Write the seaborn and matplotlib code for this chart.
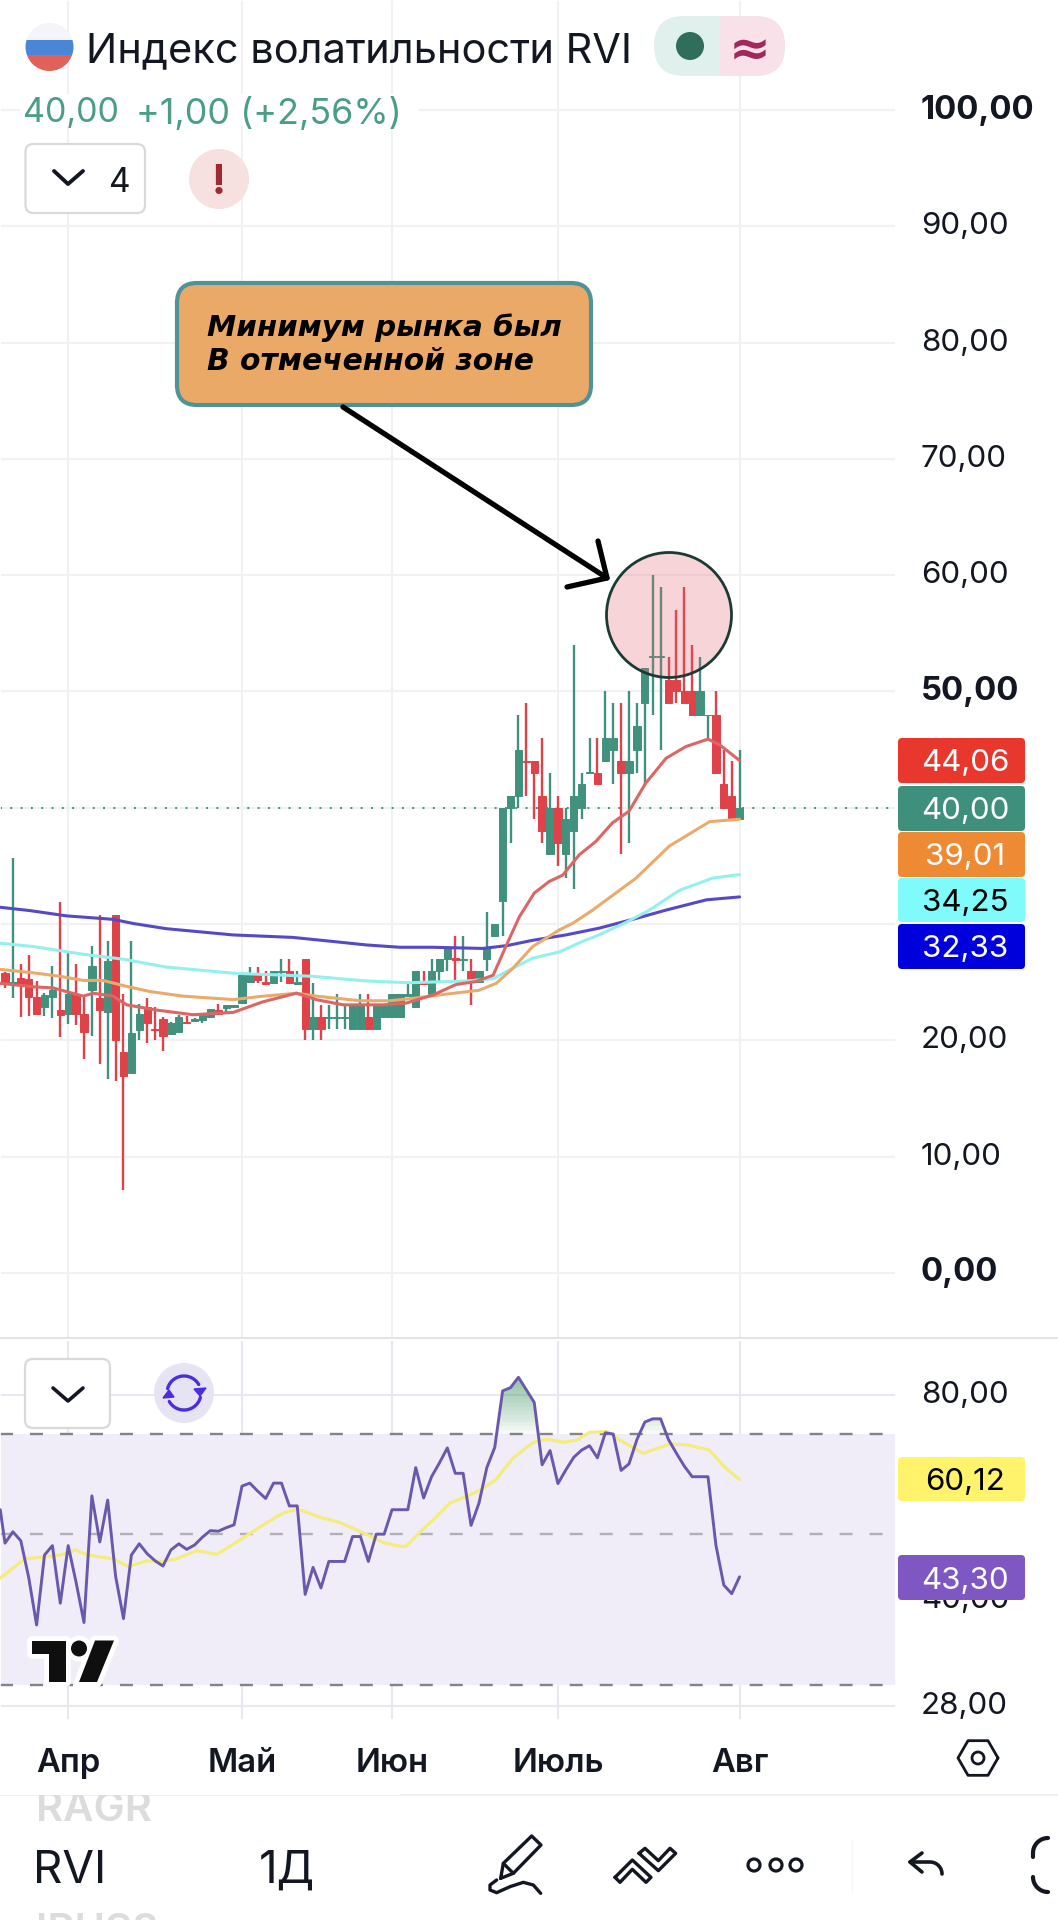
import matplotlib
matplotlib.use("Agg")
import matplotlib.pyplot as plt
import numpy as np
import pandas as pd
import seaborn as sns
from matplotlib.patches import Circle, FancyBboxPatch, Polygon, Rectangle

# ---------------------------------------------------------------------------
# Candles, one per bar
# ---------------------------------------------------------------------------
candle_high = [25.9, 35.65, 26.6, 27.3, 25.1, 24.05, 26.35, 31.9, 27.5, 26.6, 23.8, 28.1, 30.8, 28.5, 30.8, 24, 28.5,
               23.1, 23.6, 22.9, 22, 21.6, 22.2, 22.1, 21.9, 22.3, 22.7, 23.1, 23.05, 23, 25.6, 26.3, 26.3, 26, 26, 27,
               27, 26, 27, 24.9, 23, 23, 24, 23, 23, 24, 24, 23, 23, 24, 24, 25, 26, 26, 27, 27, 28, 29, 29, 27, 26, 31,
               30, 40, 41, 48, 49, 44, 46, 43, 41, 40, 54, 43, 46, 46, 50, 49, 49, 50, 49, 52, 60, 59, 53, 57, 59, 54,
               53, 48, 50, 45, 44, 45]
candle_top = [25.8, 25.05, 25.4, 25.25, 23.7, 23.9, 24.3, 22.6, 24, 23.9, 22.3, 26.4, 23.6, 26.8, 30.8, 19, 20.6,
              22.3, 22.85, 21, 21.85, 21.5, 22, 21.6, 21.8, 22.2, 22.7, 22.6, 23, 23, 25.6, 25.7, 25.6, 25, 26, 26,
              26, 25, 27, 22, 22, 22, 22, 22, 23, 23, 22, 23, 23, 24, 24, 24, 26, 25, 26, 27, 28, 27.05, 27, 26, 26, 28,
              30, 40, 41, 45, 44.05, 44, 41, 40, 40, 39, 41, 42, 43.05, 43, 46, 46, 44, 44, 47, 52, 53.05, 53.05, 51,
              51, 50, 50, 50, 48, 48, 42, 41, 40]
candle_bottom = [24.8, 24.8, 24.8, 23.7, 22.3, 22.9, 23.7, 22.2, 22.3, 22.3, 20.7, 24.3, 22.6, 22.4, 20, 16.9, 17.2,
                 20.9, 21.5, 20.9, 20.4, 20.5, 20.75, 21.5, 21.7, 21.75, 22, 22.25, 22.8, 22.9, 23.2, 25, 25.2, 24.85,
                 24.9, 25.85, 24.9, 24.85, 21, 21, 21, 21.9, 21.9, 21.9, 21, 21, 21, 21, 22, 22, 22, 23.85, 22.9, 24.85,
                 24, 26, 27, 26.9, 26.9, 25, 25, 27, 29, 32, 40, 41, 43.95, 43, 38, 36, 37, 36, 38, 40, 42.95, 42, 44,
                 45, 43, 43, 45, 49, 52.95, 52.95, 49, 50, 49, 48, 48, 47.95, 43, 40, 39, 39]
candle_low = [24.5, 23.6, 22, 22.1, 22.3, 22.05, 21.9, 20.3, 21.4, 21.3, 18.4, 20.4, 18, 16.7, 16.5, 7.1, 17.1,
              20, 19.8, 20, 19.1, 20.5, 20.75, 21.5, 21.55, 21.5, 21.9, 22.2, 22.3, 22.9, 23.2, 25, 24.9, 24.85,
              24.9, 25, 24.9, 24.85, 20, 20, 20, 21, 21, 21, 21, 21, 21, 21, 22, 22, 22, 23.85, 22.9, 24.85,
              24, 25, 26, 25, 26, 23, 25, 26, 29, 29, 37, 40, 41, 39, 37, 36, 35, 34, 33, 39, 42.95, 42, 44,
              42, 36, 37, 43, 42, 48, 45, 49, 49, 49, 48, 48, 46, 43, 40, 39, 39]
candle_up = [0, 1, 0, 0, 0, 1, 1, 0, 1, 0, 0, 1, 0, 1, 0, 0, 1,
             1, 0, 0, 0, 1, 1, 0, 1, 1, 1, 0, 1, 1, 1, 1, 0, 0,
             1, 1, 0, 1, 0, 1, 0, 1, 1, 1, 1, 1, 0, 1, 1, 1, 1, 1, 1, 0,
             1, 1, 1, 0, 1, 0, 1, 1, 1, 1, 1, 1, 0, 0, 0, 1, 0, 1, 1, 1, 1, 0, 1,
             1, 0, 1, 1, 1, 1, 1, 0, 0, 0, 0, 1, 1, 0, 0, 0, 1]

# Moving averages: bar position, value
ma_red_x = [-0.6, 3.6, 6.1, 9.9, 11.2, 13.7, 15.4, 19.2, 23.8, 28.9, 32.6, 36.9, 39.4, 42.8, 47.9, 50.8, 54.2, 57.1,
            59.6, 61.8, 63.4, 65.1, 67, 68.9, 70.6, 72.7, 74.8, 76.9, 79, 81.1, 83.7, 86.2, 89, 90.5, 93]
ma_red_y = [24.9, 24.6, 24.5, 23.8, 24.05, 23.8, 23.05, 22.6, 22.2, 22.4, 23.3, 24.05, 23.5, 23.05, 23.05, 23.2, 23.9,
            24.8, 25.05, 25.6, 28.06, 30.6, 32.66, 33.66, 34.2, 35.95, 37.1, 38.7, 39.7, 42.1, 44.26, 45.26, 45.9,
            45.4, 44.06]
ma_orange_x = [-0.6, 3.6, 7, 9.9, 12.4, 15, 18.3, 22.5, 28.9, 32.2, 36.9, 39.4, 45, 48.7, 51.6, 55, 60, 62.2, 64.3,
               66.8, 70.2, 71.9, 74.4, 79.9, 84.1, 89.2, 93]
ma_orange_y = [26.1, 25.8, 25.5, 25.15, 25.15, 24.7, 24.2, 23.8, 23.5, 23.76, 24.05, 23.8, 23.4, 23.4, 23.6, 23.9, 24.3,
               24.9, 26.2, 28.06, 29.5, 30.07, 31.2, 33.95, 36.7, 38.8, 39.01]
ma_cyan_x = [-0.6, 3.6, 9.9, 15, 20.4, 28.9, 39, 45.75, 51.2, 58.4, 61.8, 64.3, 66.8, 70.2, 73.1, 75.2, 78.5, 81.6,
             85.4, 89.6, 93]
ma_cyan_y = [28.35, 28.06, 27.4, 26.97, 26.3, 25.77, 25.5, 25.1, 24.95, 25.1, 25.3, 26.2, 27.06, 27.6, 28.5, 29.06,
             30.1, 31.2, 32.9, 33.95, 34.25]
ma_blue_x = [-0.6, 3.2, 7.8, 13.7, 16.2, 20.4, 28.9, 36.4, 41.5, 45.75, 50, 54.2, 60.5, 63.6, 66.8, 71, 75.2, 80, 83.7,
             88.8, 93]
ma_blue_y = [31.44, 31.15, 30.7, 30.4, 30.05, 29.6, 29.06, 28.85, 28.5, 28.2, 28, 28, 27.9, 28.15, 28.6, 29.06, 29.64,
             30.5, 31.2, 32.08, 32.33]

# RSI, first value sits just left of bar 0
rsi_x = [-0.6] + list(range(94))
rsi_values = [54.3, 48.5, 50.4, 48.9, 43.2, 36.8, 46.6, 48.1, 39.6, 48.1, 42.5, 37.1, 56.9, 48.7, 56.1, 43.4, 37.6,
              46.6, 48.4, 46.8, 45.7, 44.9, 47.4, 48.4, 47.5, 48.2, 49.5, 50.6, 50.5, 51.1, 51.6, 58.8, 59.4, 57.8,
              56.4, 59.4, 59.4, 55, 55, 40.8, 44.7, 41.7, 45.6, 45.6, 45.6, 49.6, 49.6, 45.6, 50, 50, 54.3, 54.3, 54.3,
              62.6, 56.5, 60.7, 63.6, 66.9, 61.4, 61.4, 51.5, 55.5, 62.6, 67, 81.1, 82, 84.9, 81.4, 78, 63.2, 66.3,
              59.3, 62.1, 64.8, 66.4, 67.4, 64.7, 70.4, 70.1, 62, 63.4, 68.8, 73, 73.8, 73.8, 68.8, 65.7, 62.9, 60.7,
              60.7, 60.7, 48.2, 42.1, 40.9, 43.3]
rsi_ma_x = [-0.6, 2.5, 4.9, 7, 8.9, 10.5, 13.7, 15.6, 18, 20, 21.7, 24.3, 26.8, 29.7, 32.7, 35.2, 37.1, 40, 42.4, 44.9,
            47.9, 50, 50.8, 52.5, 54.6, 56.3, 58.4, 60.3, 62.2, 64.3, 66.9, 68.6, 70.7, 72.4, 74, 76.2, 77.8, 80.8,
            84.2, 86.3, 89.2, 91.1, 93]
rsi_ma_y = [43.1, 46, 46.3, 46.6, 47.4, 46.6, 46, 44.8, 45.7, 45.6, 46, 47.3, 46.7, 49, 51.6, 53.7, 54.4, 52.9, 52,
            50.5, 48.6, 48, 48, 50.3, 53, 55.5, 56.8, 58.1, 60.2, 64.6, 68.2, 68.9, 68.2, 68.7, 70.5, 70.7, 68.7,
            65.7, 67.8, 67.6, 66.4, 62.7, 60.12]

# Axes text
month_pos = [8, 30, 49, 70, 93]
month_labels = ["Апр", "Май", "Июн", "Июль", "Авг"]
price_ticks = [0, 10, 20, 30, 40, 50, 60, 70, 80, 90, 100]
bold_ticks = [0, 50, 100]
covered_ticks = [30, 40]  # sit behind the price badges
rsi_ticks = [28, 40, 60, 80]
rsi_covered = [60]
rsi_levels = [70, 50, 30]

GREEN = "#42917f"
RED = "#df4248"
INK = "#131722"
W, H = 1058, 1920

sns.set_theme(style="whitegrid", rc={
    "grid.color": "#f1f1f3",
    "grid.linewidth": 1.5,
    "axes.edgecolor": "white",
    "axes.axisbelow": True,
})
plt.rcParams["font.family"] = ["Inter", "DejaVu Sans"]

fig = plt.figure(figsize=(W / 100, H / 100), dpi=100, facecolor="white")


def axes_px(x0, y0, x1, y1, **kw):
    return fig.add_axes([x0 / W, 1 - y1 / H, (x1 - x0) / W, (y1 - y0) / H], **kw)


ax = axes_px(0, 0, 896, 1338)
ax_rsi = axes_px(0, 1340, 896, 1720)

# ── Price panel ───────────────────────────────────────────────────────────
df = pd.DataFrame({"high": candle_high, "top": candle_top, "bottom": candle_bottom,
                   "low": candle_low, "up": candle_up})
df["x"] = df.index
colors = [GREEN if u else RED for u in df["up"]]
ax.vlines(df["x"], df["low"], df["high"], colors=colors, linewidth=1.7, zorder=3)
ax.bar(df["x"], df["top"] - df["bottom"], bottom=df["bottom"], width=0.92, color=colors,
       linewidth=0.7, edgecolor=colors, zorder=3)

for xs, ys, col in [(ma_blue_x, ma_blue_y, "#5549c8"), (ma_cyan_x, ma_cyan_y, "#93f0ee"),
                    (ma_orange_x, ma_orange_y, "#eaaa6c"), (ma_red_x, ma_red_y, "#dc6663")]:
    sns.lineplot(x=xs, y=ys, color=col, linewidth=2.2, ax=ax, estimator=None, sort=False,
                 legend=False, zorder=4)

ax.axhline(40, color=GREEN, linewidth=1.4, linestyle=(0, (1, 4.3)), zorder=2)
ax.set_xlim(-0.633, 112.8)
ax.set_ylim(-5.6, 109.46)
ax.set_xticks(month_pos)
ax.set_xticklabels([])
ax.set_yticks(price_ticks)
ax.set_yticklabels(["" if v in covered_ticks else f"{v},00" for v in price_ticks])
ax.yaxis.tick_right()
ax.tick_params(axis="y", length=0, pad=18, labelsize=22.5, labelcolor=INK)
ax.tick_params(axis="x", length=0)
for lab, v in zip(ax.get_yticklabels(), price_ticks):
    lab.set_verticalalignment("center")
    if v in bold_ticks:
        lab.set_fontweight("bold")
        lab.set_fontsize(23.6)
ax.set_xlabel("")
ax.set_ylabel("")

# ── RSI panel ─────────────────────────────────────────────────────────────
ax_rsi.set_yscale("log")
ax_rsi.set_xlim(-0.633, 112.8)
ax_rsi.set_ylim(26.7, 96.3)
ax_rsi.axhspan(30, 70, color="#f0edf8", zorder=1, linewidth=0)
ax_rsi.grid(True, color="#e9e7f0", linewidth=1.5, zorder=1.5)
for lev in rsi_levels:
    ax_rsi.axhline(lev, color="#b3afb9" if lev == 50 else "#84828a", linewidth=1.7,
                   linestyle=(0, (5.5, 7.2)), zorder=2)
rsi_arr = np.array(rsi_values)
# stacked translucent layers give the fade above the overbought level
for lev in np.arange(70, 85, 1.0):
    ax_rsi.fill_between(rsi_x, lev, rsi_arr, where=rsi_arr > lev, interpolate=True,
                        color="#4f9e6e", alpha=0.05, linewidth=0, zorder=2.5)
sns.lineplot(x=rsi_ma_x, y=rsi_ma_y, color="#f6ec7d", linewidth=2.3, ax=ax_rsi, estimator=None,
             sort=False, legend=False, zorder=3)
sns.lineplot(x=rsi_x, y=rsi_values, color="#6a58ad", linewidth=2.1, ax=ax_rsi, estimator=None,
             sort=False, legend=False, zorder=4)
ax_rsi.set_xticks(month_pos)
ax_rsi.set_xticklabels(month_labels, fontweight=600)
ax_rsi.set_yticks(rsi_ticks)
ax_rsi.set_yticks([], minor=True)
ax_rsi.set_yticklabels(["" if v in rsi_covered else f"{v},00" for v in rsi_ticks])
ax_rsi.yaxis.tick_right()
ax_rsi.tick_params(axis="y", which="both", length=0, pad=18, labelsize=22.5, labelcolor=INK)
ax_rsi.tick_params(axis="x", length=0, pad=20, labelsize=23.6, labelcolor=INK)
for lab in ax_rsi.get_yticklabels():
    lab.set_verticalalignment("center")
ax_rsi.set_xlabel("")
ax_rsi.set_ylabel("")

# ── Overlay in pixel coordinates: app chrome and the drawn-on annotation ──
ui = fig.add_axes([0, 0, 1, 1], zorder=10)
ui.set_xlim(0, W)
ui.set_ylim(H, 0)
ui.axis("off")
ui.patch.set_alpha(0)


def rbox(x0, y0, x1, y1, r, fc, ec="none", lw=0, **kw):
    p = FancyBboxPatch((x0 + r, y0 + r), x1 - x0 - 2 * r, y1 - y0 - 2 * r, boxstyle=f"round,pad={r}",
                       fc=fc, ec=ec, lw=lw, **kw)
    ui.add_patch(p)
    return p


def stroke(xs, ys, color=INK, lw=2.4):
    ui.plot(xs, ys, color=color, lw=lw, solid_capstyle="round", solid_joinstyle="round")


# separators
ui.plot([0, W], [1338, 1338], color="#e3e3e5", lw=1.5)
ui.plot([0, W], [1795, 1795], color="#ececee", lw=1.2)

# header
flag = Circle((49.5, 47), 24, fc="none", ec="none")
ui.add_patch(flag)
for y0, y1, col in [(23, 40, "#f3f5f8"), (40, 55, "#4a86d8"), (55, 71, "#e0615a")]:
    band = Rectangle((25, y0), 50, y1 - y0, fc=col, ec="none")
    ui.add_patch(band)
    band.set_clip_path(flag)
ui.text(86, 47, "Индекс волатильности RVI", fontsize=29.9, color=INK, va="center_baseline", ha="left")

# market status pill
pill_l = rbox(654, 16, 785, 76, 30, "#e0f0ec")
pill_r = Rectangle((720, 10), 70, 70, fc="#f8e1e8", ec="none")
ui.add_patch(pill_r)
pill_r.set_clip_path(rbox(654, 16, 785, 76, 30, "none"))
ui.add_patch(Circle((690, 46), 14, fc="#2e6e5a", ec="none"))
ui.text(750, 46, "≈", fontsize=36, color="#a0285a", ha="center", va="center_baseline", fontweight="bold",
        family="DejaVu Sans")

# the quote line masks the grid behind it
ui.add_patch(Rectangle((20, 94), 398, 32, fc="white", ec="none"))
ui.text(23, 110, "40,00", fontsize=24.5, color="#4a9e85", va="center_baseline")
ui.text(136, 110, "+1,00 (+2,56%)", fontsize=25.9, color="#4a9e85", va="center_baseline")

# layers button and warning
rbox(25.5, 144, 145, 213, 8, "white", "#d9d9db", 1.6)
stroke([54, 68, 83], [171, 184, 171], lw=2.8)
ui.text(120, 179, "4", fontsize=24, color=INK, ha="center", va="center_baseline")
ui.add_patch(Circle((219, 179), 30, fc="#f6e0e0", ec="none"))
ui.text(219, 179, "!", fontsize=30, color="#a02a30", ha="center", va="center_baseline", fontweight="bold")

# annotation box and arrow
rbox(177, 283, 591, 405, 20, "#eba968", "#4f9396", 3)
ui.text(207, 325, "Минимум рынка был", fontsize=21.2, fontweight="bold", fontstyle="italic", color="black",
        va="center_baseline", family="DejaVu Sans")
ui.text(207, 358, "В отмеченной зоне", fontsize=21.4, fontweight="bold", fontstyle="italic", color="black",
        va="center_baseline", family="DejaVu Sans")
stroke([343, 607], [407, 578], color="black", lw=3.8)
stroke([598, 607, 567], [541, 578, 587], color="black", lw=3.8)

# marked zone
ui.add_patch(Circle((669, 615), 62.5, fc=(0.88, 0.38, 0.44, 0.27), ec="#1c3a34", lw=2))

# price badges
badges = [(738, 783, "#e8382d", "white", "44,06"), (786, 831, "#3f8f7d", "white", "40,00"),
          (832, 877, "#ee8a33", "white", "39,01"), (878, 922, "#80fbfb", "black", "34,25"),
          (924, 969, "#0000dd", "white", "32,33"), (1457, 1501, "#fff36b", "black", "60,12"),
          (1555, 1600, "#7e57c2", "white", "43,30")]
for y0, y1, fc, tc, txt in badges:
    rbox(898, y0, 1025, y1, 4, fc)
    ui.text(965, (y0 + y1) / 2, txt, fontsize=22.5, color=tc, ha="center", va="center_baseline")

# RSI panel controls
rbox(25, 1359, 110, 1428, 8, "white", "#d9d9db", 1.6)
stroke([53, 68, 83], [1388, 1401, 1388], lw=2.6)
ui.add_patch(Circle((184, 1393), 30, fc="#e6e3f3", ec="none"))
t = np.radians(np.linspace(30, 165, 30))
stroke(184 + 17 * np.cos(t), 1393 - 17 * np.sin(t), color="#4a2fe0", lw=2.4)
stroke(184 - 17 * np.cos(t), 1393 + 17 * np.sin(t), color="#4a2fe0", lw=2.4)
ui.add_patch(Polygon([[194, 1389], [206, 1388], [200, 1396]], fc="#4a2fe0", ec="#4a2fe0"))
ui.add_patch(Polygon([[174, 1397], [163, 1398], [169, 1390]], fc="#4a2fe0", ec="#4a2fe0"))

# TradingView mark with its white halo
logo_t = [[32, 1640.5], [65.5, 1640.5], [65.5, 1682], [49, 1682], [49, 1654], [32, 1654]]
logo_s = [[95, 1640.5], [114, 1640.5], [97, 1682], [79, 1682]]
for fc, ec, lw in [("white", "white", 7), ("#0f0f0f", "none", 0)]:
    ui.add_patch(Polygon(logo_t, fc=fc, ec=ec, lw=lw, joinstyle="round"))
    ui.add_patch(Circle((79, 1648.5), 8, fc=fc, ec=ec, lw=lw))
    ui.add_patch(Polygon(logo_s, fc=fc, ec=ec, lw=lw, joinstyle="round"))

# settings hexagon
hx = 978 + 20 * np.cos(np.radians(np.arange(0, 361, 60)))
hy = 1758 + 20 * np.sin(np.radians(np.arange(0, 361, 60)))
ui.plot(hx, hy, color=INK, lw=2)
ui.add_patch(Circle((978, 1758), 6, fc="none", ec=INK, lw=2))

# bottom toolbar
ui.text(36, 1821, "RAGR", fontsize=30, color="#dcdcdc", va="baseline", fontweight=600)
ui.add_patch(Rectangle((0, 1780), 400, 14.5, fc="white", ec="none", zorder=5))
ui.text(33, 1883, "RVI", fontsize=33, color=INK, va="baseline")
ui.text(259, 1883, "1Д", fontsize=33, color=INK, va="baseline")
ui.text(36, 1943, "IRUS8", fontsize=30, color="#dcdcdc", va="baseline", fontweight=600)

pen = np.array([[92, 175], [100, 130], [185, 48], [213, 75], [130, 160], [92, 175]], dtype=float)
stroke(470 + pen[:, 0] / 3, 1820 + pen[:, 1] / 3)
stroke(470 + np.array([100, 130]) / 3, 1820 + np.array([130, 160]) / 3)
sq = np.array([[80, 180], [60, 195], [60, 210], [80, 218], [120, 200], [160, 187], [190, 195], [212, 220]], dtype=float)
stroke(470 + sq[:, 0] / 3, 1820 + sq[:, 1] / 3)
up_c = np.array([[435, 172], [487, 120], [543, 172], [528, 187], [487, 148], [450, 187], [435, 172]], dtype=float)
dn_c = np.array([[507, 100], [525, 85], [565, 122], [600, 85], [617, 100], [565, 152], [507, 100]], dtype=float)
stroke(470 + up_c[:, 0] / 3, 1820 + up_c[:, 1] / 3)
stroke(470 + dn_c[:, 0] / 3, 1820 + dn_c[:, 1] / 3)
for cx in (754, 776, 796):
    ui.add_patch(Circle((cx, 1865), 6, fc="none", ec=INK, lw=2.3))
ui.plot([852, 852], [1840, 1892], color="#f6f6f6", lw=1)
stroke([922, 910, 922], [1853, 1862, 1872], lw=2.6)
t = np.radians(np.linspace(0, 90, 15))
stroke(np.r_[910, 930 + 12 * np.cos(t[::-1])], np.r_[1862, 1874 - 12 * np.sin(t[::-1])], lw=2.6)
t = np.radians(np.linspace(90, 180, 12))
stroke(1048 + 15 * np.cos(t), 1853 - 15 * np.sin(t), lw=3)
stroke(1048 + 15 * np.cos(t), 1877 + 15 * np.sin(t), lw=3)
stroke([1033, 1033], [1853, 1857], lw=3)

fig.savefig("out.png", dpi=100, facecolor="white")
plt.close(fig)
